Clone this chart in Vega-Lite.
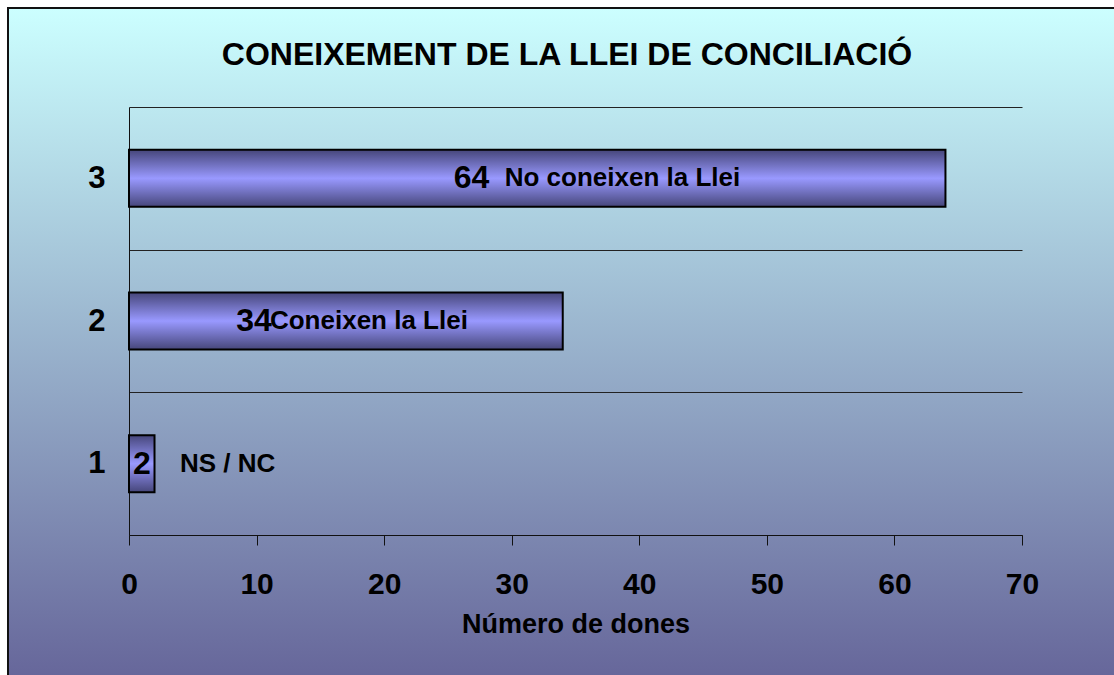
{
  "$schema": "https://vega.github.io/schema/vega-lite/v6.json",
  "width": 1110,
  "height": 671,
  "autosize": {"type": "none"},
  "padding": {"left": 8, "top": 8, "right": -4, "bottom": -4},
  "background": "white",
  "title": {
    "text": "CONEIXEMENT DE LA LLEI DE CONCILIACIÓ",
    "font": "Liberation Sans",
    "fontSize": 32,
    "fontWeight": "bold",
    "color": "#000000",
    "anchor": "middle",
    "frame": "group",
    "baseline": "alphabetic",
    "offset": -57,
    "dy": 48,
    "dx": 4
  },
  "config": {
    "view": {
      "fill": {
        "gradient": "linear",
        "x1": 0, "y1": 0, "x2": 0, "y2": 1,
        "stops": [
          {"offset": 0, "color": "#CCFFFF"},
          {"offset": 1, "color": "#66669A"}
        ]
      },
      "stroke": "#111111",
      "strokeWidth": 2
    },
    "font": "Liberation Sans"
  },
  "data": {
    "values": [
      {"cat": "3", "dones": 64, "etiqueta": "No coneixen la Llei", "numAt": 26.85, "nameAt": 29.45},
      {"cat": "2", "dones": 34, "etiqueta": "Coneixen la Llei", "numAt": 9.8, "nameAt": 11.05},
      {"cat": "1", "dones": 2, "etiqueta": "NS / NC", "numAt": 1.02, "nameAt": 4.0}
    ]
  },
  "encoding": {
    "y": {
      "field": "cat",
      "type": "ordinal",
      "scale": {"domain": ["3", "2", "1"], "range": [99, 527], "paddingInner": 0, "paddingOuter": 0},
      "axis": {
        "orient": "left",
        "offset": -121,
        "title": null,
        "ticks": false,
        "tickBand": "extent",
        "grid": true,
        "gridColor": "#222222",
        "gridWidth": 1,
        "gridOpacity": 1,
        "domain": true,
        "domainColor": "#111111",
        "domainWidth": 1,
        "labelFont": "Liberation Sans",
        "labelFontSize": 31,
        "labelFontWeight": "bold",
        "labelColor": "#000000",
        "labelPadding": 24,
        "labelAngle": 0
      }
    }
  },
  "layer": [
    {
      "mark": {
        "type": "bar",
        "height": {"band": 0.4},
        "fill": {
          "gradient": "linear",
          "x1": 0, "y1": 0, "x2": 0, "y2": 1,
          "stops": [
            {"offset": 0, "color": "#46467A"},
            {"offset": 0.5, "color": "#9999FF"},
            {"offset": 1, "color": "#46467A"}
          ]
        },
        "stroke": "#000000",
        "strokeWidth": 2
      },
      "encoding": {
        "x": {
          "field": "dones",
          "type": "quantitative",
          "scale": {"domain": [0, 70], "range": [121, 1014], "nice": false, "zero": true},
          "axis": {
            "orient": "bottom",
            "offset": -144,
            "values": [0, 10, 20, 30, 40, 50, 60, 70],
            "title": "Número de dones",
            "titleFont": "Liberation Sans",
            "titleFontSize": 27,
            "titleFontWeight": "bold",
            "titleColor": "#000000",
            "titlePadding": 12,
            "grid": false,
            "domainColor": "#111111",
            "domainWidth": 1,
            "tickColor": "#111111",
            "tickSize": 10,
            "tickWidth": 1,
            "labelFont": "Liberation Sans",
            "labelFontSize": 30,
            "labelFontWeight": "bold",
            "labelColor": "#000000",
            "labelPadding": 24,
            "labelFlush": false,
            "labelOverlap": false
          }
        }
      }
    },
    {
      "mark": {"type": "text", "align": "center", "baseline": "middle", "font": "Liberation Sans", "fontSize": 32, "fontWeight": "bold", "color": "#000000"},
      "encoding": {
        "x": {"field": "numAt", "type": "quantitative", "scale": {"domain": [0, 70], "range": [121, 1014], "nice": false, "zero": true}, "title": "Número de dones"},
        "text": {"field": "dones", "type": "quantitative"}
      }
    },
    {
      "mark": {"type": "text", "align": "left", "baseline": "middle", "font": "Liberation Sans", "fontSize": 26, "fontWeight": "bold", "color": "#000000"},
      "encoding": {
        "x": {"field": "nameAt", "type": "quantitative", "scale": {"domain": [0, 70], "range": [121, 1014], "nice": false, "zero": true}, "title": "Número de dones"},
        "text": {"field": "etiqueta", "type": "nominal"}
      }
    }
  ]
}
